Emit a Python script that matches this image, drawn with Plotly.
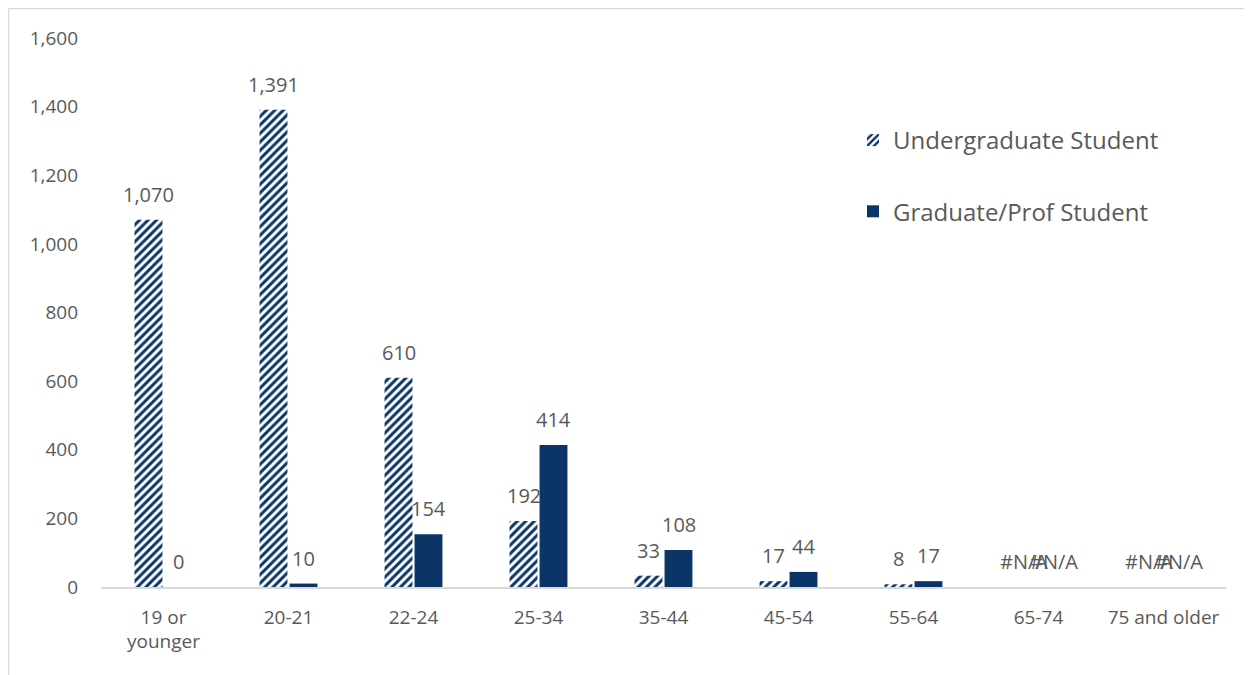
import plotly.graph_objects as go

categories = ["19 or<br>younger", "20-21", "22-24", "25-34", "35-44", "45-54", "55-64", "65-74", "75 and older"]
undergrad = [1070, 1391, 610, 192, 33, 17, 8, None, None]
graduate = [0, 10, 154, 414, 108, 44, 17, None, None]

NAVY = "#0B3566"
TXT = "#595959"
FONT = "Open Sans"

def vals(arr):
    return [0 if v is None else v for v in arr]

def labels(arr):
    return ["#N/A" if v is None else f"{v:,}" for v in arr]

# page is drawn with an 8px body margin; work in figure coordinates
OFF = 8
W, H = 1252 - OFF, 675 - OFF
L, R, T, B = 101 - OFF, 1252 - 1226, 38 - OFF, H - (587 - OFF)
pw, ph = W - L - R, H - T - B

def px_x(p):  # page pixel -> paper
    return (p - OFF - L) / pw

def px_y(p):
    return (H - B - (p - OFF)) / ph

fig = go.Figure()
fig.add_trace(go.Bar(
    x=categories, y=vals(undergrad), name="Undergraduate Student",
    marker=dict(color=NAVY, line=dict(width=0),
                pattern=dict(shape="/", fgcolor=NAVY, bgcolor="white", size=6, solidity=0.5, fillmode="replace")),
    legendgroup="u",
))
fig.add_trace(go.Bar(
    x=categories, y=vals(graduate), name="Graduate/Prof Student",
    marker=dict(color=NAVY, line=dict(width=0)),
    legendgroup="g",
))

annotations = []
for series, dx in ((undergrad, -15), (graduate, 15)):
    for cat, v, lab in zip(categories, vals(series), labels(series)):
        annotations.append(dict(
            x=cat, y=v, xref="x", yref="y", text=lab, showarrow=False,
            xanchor="center", yanchor="bottom", xshift=dx, yshift=10,
            font=dict(size=20, color=TXT, family=FONT),
        ))

fig.update_layout(
    width=W, height=H,
    margin=dict(l=L, r=R, t=T, b=B),
    paper_bgcolor="white", plot_bgcolor="white",
    barmode="group", bargap=0.52, bargroupgap=0.07,
    font=dict(family=FONT, color=TXT, size=19),
    legend=dict(x=px_x(853), y=px_y(118), xanchor="left", yanchor="top",
                font=dict(size=24, color=TXT, family=FONT),
                tracegroupgap=37, bgcolor="rgba(0,0,0,0)"),
    xaxis=dict(showline=True, linecolor="#D9D9D9", linewidth=1.5, ticks="",
               tickfont=dict(size=19, color=TXT), showgrid=False, ticklabelstandoff=12),
    yaxis=dict(range=[0, 1600], dtick=200, tickformat=",", showgrid=False, zeroline=False,
               showline=False, ticks="", tickfont=dict(size=19, color=TXT), ticklabelstandoff=22),
    annotations=annotations,
    shapes=[
        dict(type="line", xref="paper", yref="paper", x0=px_x(8.5), x1=px_x(1260), y0=px_y(8.5), y1=px_y(8.5),
             line=dict(color="#D9D9D9", width=1.5)),
        dict(type="line", xref="paper", yref="paper", x0=px_x(8.5), x1=px_x(8.5), y0=px_y(8.5), y1=px_y(690),
             line=dict(color="#D9D9D9", width=1.5)),
    ],
    showlegend=True,
)

fig.write_html("out.html")
